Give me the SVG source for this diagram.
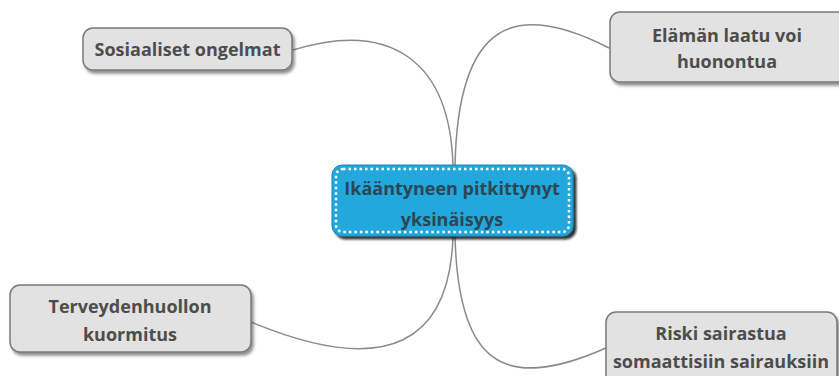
<svg xmlns="http://www.w3.org/2000/svg" width="839" height="376" viewBox="0 0 839 376">
<defs>
<filter id="sh" x="-10%" y="-20%" width="130%" height="150%">
<feDropShadow dx="2" dy="3" stdDeviation="1.5" flood-color="#444" flood-opacity="0.6"/>
</filter>
<filter id="shc" x="-10%" y="-20%" width="130%" height="150%">
<feDropShadow dx="3" dy="3" stdDeviation="1" flood-color="#111" flood-opacity="0.85"/>
</filter>
</defs>
<style>
.box{fill:#e2e2e2;stroke:#7a7a7a;stroke-width:1.5;filter:url(#sh)}
.lbl{font-family:"Open Sans","DejaVu Sans",sans-serif;font-weight:bold;font-size:18px;fill:#4d4d4d;text-anchor:middle}
.clbl{font-family:"Open Sans","DejaVu Sans",sans-serif;font-weight:bold;font-size:18px;fill:#2c4654;text-anchor:middle}
.con{fill:none;stroke:#8a8a8a;stroke-width:1.5}
</style>
<rect width="839" height="376" fill="#ffffff"/>
<g id="connectors">
<path class="con" d="M453,166 C450,60 390,20 293,50"/>
<path class="con" d="M455,166 C458,20 515,0 609,48"/>
<path class="con" d="M453,236 C450,340 390,380 251,322"/>
<path class="con" d="M455,236 C458,360 500,395 606,348"/>
</g>
<g id="center">
<rect x="332" y="165" width="241" height="71" rx="10" fill="#24a8dc" stroke="#1a86b5" stroke-width="1" filter="url(#shc)"/>
<rect x="336" y="169" width="233" height="63" rx="7" fill="none" stroke="#ffffff" stroke-width="2.5" stroke-dasharray="2.5 3"/>
<text class="clbl" x="452" y="195">Ikääntyneen pitkittynyt</text>
<text class="clbl" x="452" y="226">yksinäisyys</text>
</g>
<g id="sosiaaliset">
<rect class="box" x="83" y="28" width="209" height="42" rx="10"/>
<text class="lbl" x="187.5" y="56">Sosiaaliset ongelmat</text>
</g>
<g id="elaman">
<rect class="box" x="610" y="12" width="240" height="70" rx="10"/>
<text class="lbl" x="727" y="42">Elämän laatu voi</text>
<text class="lbl" x="727" y="68">huonontua</text>
</g>
<g id="terveydenhuollon">
<rect class="box" x="10" y="285" width="241" height="67" rx="10"/>
<text class="lbl" x="130" y="313">Terveydenhuollon</text>
<text class="lbl" x="130" y="341">kuormitus</text>
</g>
<g id="riski">
<rect class="box" x="606" y="312" width="231" height="80" rx="10"/>
<text class="lbl" x="721" y="340">Riski sairastua</text>
<text class="lbl" x="721" y="368">somaattisiin sairauksiin</text>
</g>
</svg>
